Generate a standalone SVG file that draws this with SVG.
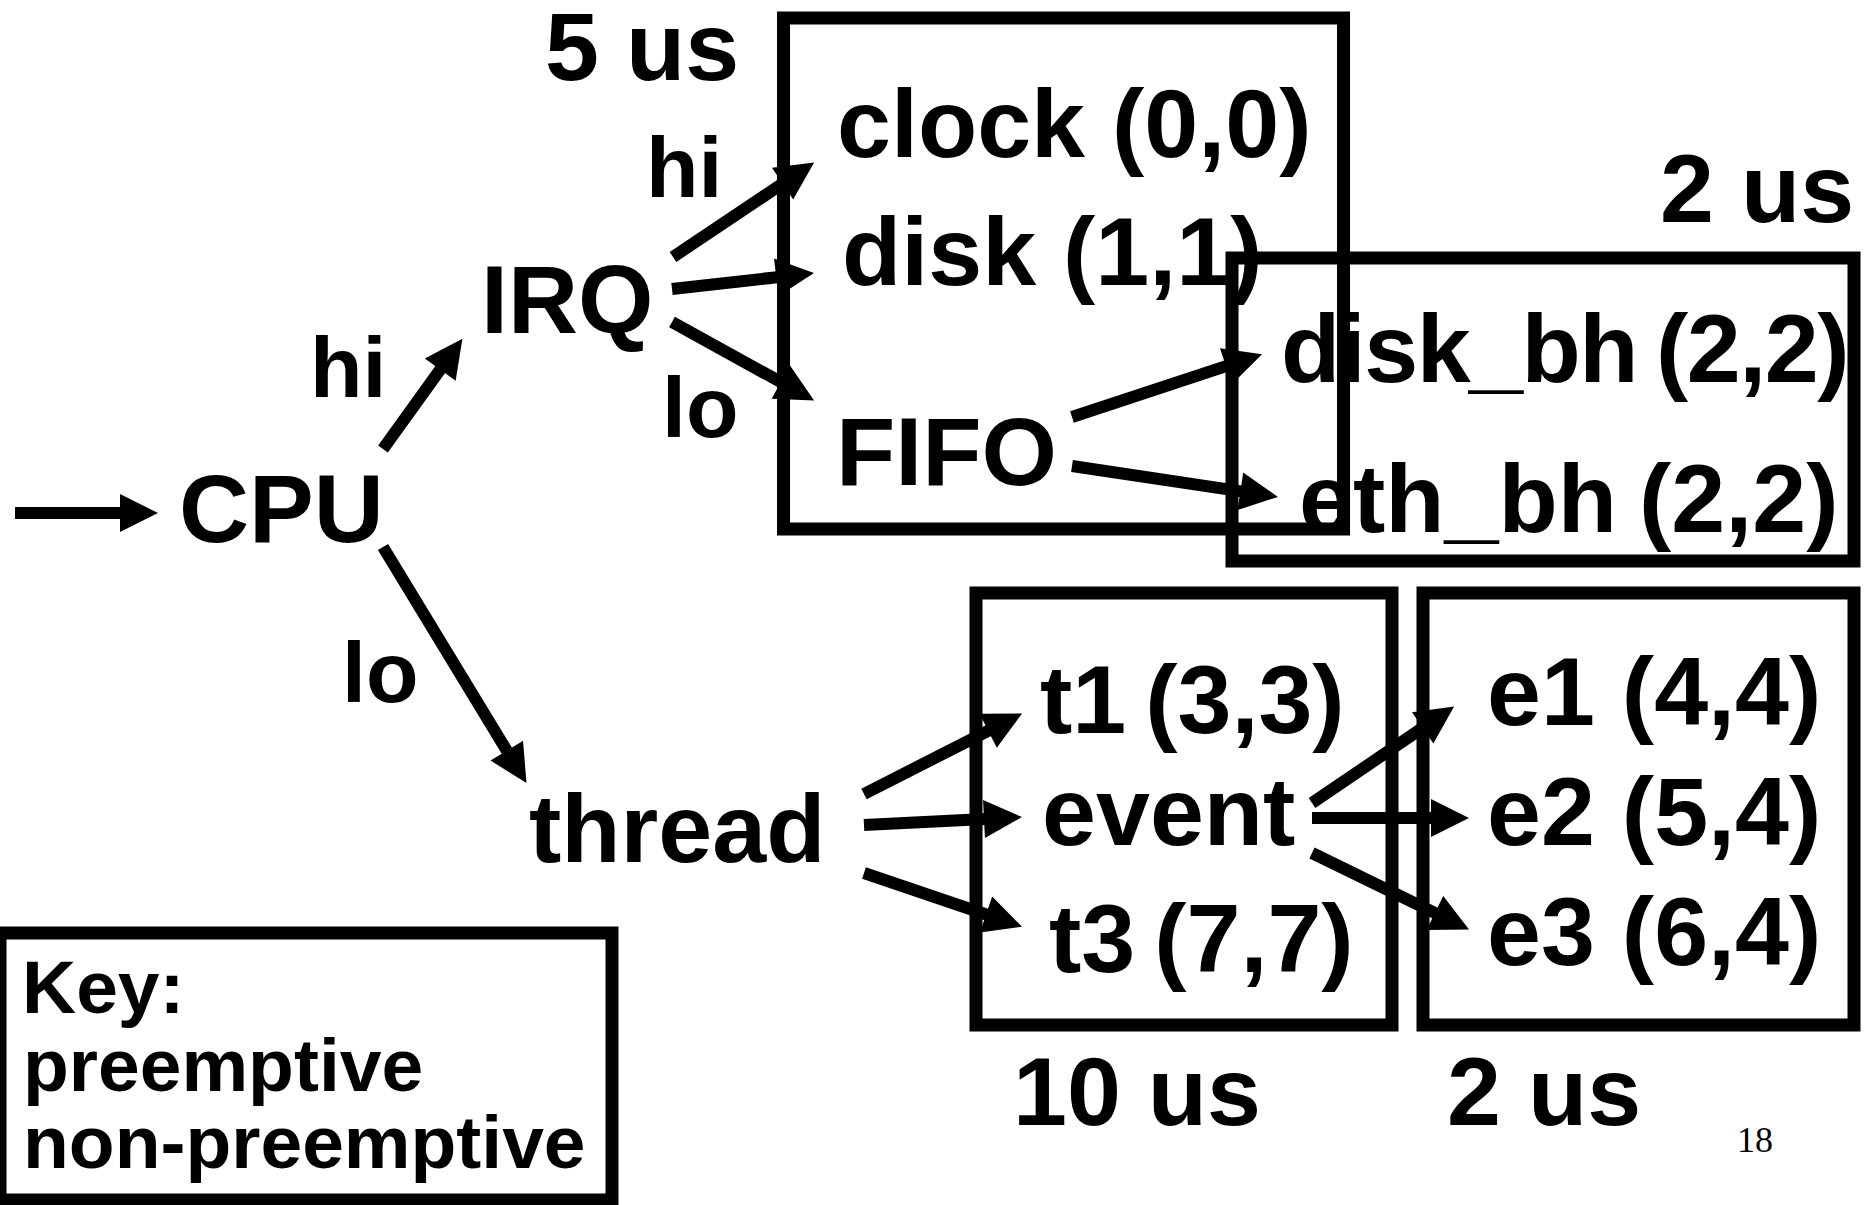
<svg xmlns="http://www.w3.org/2000/svg" width="1868" height="1205" viewBox="0 0 1868 1205">
<style>
.t{font-family:"Liberation Sans",Arial,sans-serif;font-weight:bold;font-size:97px;fill:#000}
.s{font-size:86px}
.k{font-size:75px}
.n{word-spacing:-8px}
.box{fill:none;stroke:#000;stroke-width:13}
.c{fill:none;stroke:#000;stroke-width:12}
.pg{font-family:"Liberation Serif","Times New Roman",serif;font-size:36px;fill:#000}
</style>
<defs>
<marker id="ah" viewBox="0 -19 38 38" markerWidth="38" markerHeight="38" refX="1" refY="0" orient="auto" markerUnits="userSpaceOnUse" overflow="visible">
<path d="M0,-19 L38,0 L0,19 z" fill="#000"/>
</marker>
</defs>
<rect width="1868" height="1205" fill="#fff"/>

<g id="box-irq">
<rect class="box" x="783.5" y="18" width="560" height="511"/>
<text class="t" x="545" y="80">5 us</text>
</g>
<g id="box-bh">
<rect class="box" x="1232" y="258" width="622" height="303"/>
<text class="t" x="1660" y="222">2 us</text>
</g>
<g id="box-thread">
<rect class="box" x="976" y="593" width="416" height="432"/>
<text class="t" x="1013" y="1125">10 us</text>
</g>
<g id="box-event">
<rect class="box" x="1423" y="593" width="431" height="432"/>
<text class="t" x="1447" y="1125">2 us</text>
</g>

<g id="cpu"><text class="t" x="179" y="542">CPU</text></g>
<g id="irq"><text class="t" x="481" y="333">IRQ</text></g>
<g id="thread"><text class="t" x="529" y="862">thread</text></g>
<g id="clock"><text class="t" x="837" y="157">clock (0,0)</text></g>
<g id="disk"><text class="t" x="842" y="285">disk (1,1)</text></g>
<g id="fifo"><text class="t" x="836" y="485">FIFO</text></g>
<g id="disk_bh"><text class="t" x="1281" y="382" letter-spacing="-1.5">disk_bh <tspan x="1656">(2,2)</tspan></text></g>
<g id="eth_bh"><text class="t" x="1299" y="532">eth_bh <tspan x="1639">(2,2)</tspan></text></g>
<g id="t1"><text class="t n" x="1040" y="733">t1 (3,3)</text></g>
<g id="event"><text class="t" x="1042" y="845">event</text></g>
<g id="t3"><text class="t n" x="1049" y="972">t3 (7,7)</text></g>
<g id="e1"><text class="t" x="1487" y="725">e1 (4,4)</text></g>
<g id="e2"><text class="t" x="1487" y="845">e2 (5,4)</text></g>
<g id="e3"><text class="t" x="1487" y="965">e3 (6,4)</text></g>

<g id="key">
<rect class="box" x="0" y="933" width="612" height="267"/>
<text class="t k" x="22" y="1013">Key:</text>
<text class="t k" x="23" y="1091">preemptive</text>
<text class="t k" x="23" y="1168">non-preemptive</text>
</g>

<g id="connectors">
<path class="c" d="M15,513 L121,513" stroke-width="13" marker-end="url(#ah)"/>
<path class="c" d="M383,449 L440.8,368.8" marker-end="url(#ah)"/>
<path class="c" d="M383,547 L507.3,751.5" marker-end="url(#ah)"/>
<path class="c" d="M673,257 L783.4,183.1" marker-end="url(#ah)"/>
<path class="c" d="M672,289 L777.2,277.2" marker-end="url(#ah)"/>
<path class="c" d="M672,322 L781.7,382.6" marker-end="url(#ah)"/>
<path class="c" d="M1072,417 L1226.9,365.9" marker-end="url(#ah)"/>
<path class="c" d="M1072,466 L1241.4,491.4" marker-end="url(#ah)"/>
<path class="c" d="M864,794 L989.1,730.3" marker-end="url(#ah)"/>
<path class="c" d="M864,825 L985,818.9" marker-end="url(#ah)"/>
<path class="c" d="M864,873 L987,914.8" marker-end="url(#ah)"/>
<path class="c" d="M1312,803 L1423.5,727.3" marker-end="url(#ah)"/>
<path class="c" d="M1312,818 L1432,818" marker-end="url(#ah)"/>
<path class="c" d="M1312,853 L1435.8,913.4" marker-end="url(#ah)"/>
<text class="t s" x="310" y="397">hi</text>
<text class="t s" x="342" y="702">lo</text>
<text class="t s" x="646" y="197">hi</text>
<text class="t s" x="662" y="437">lo</text>
</g>

<text class="pg" x="1737" y="1152">18</text>
</svg>
